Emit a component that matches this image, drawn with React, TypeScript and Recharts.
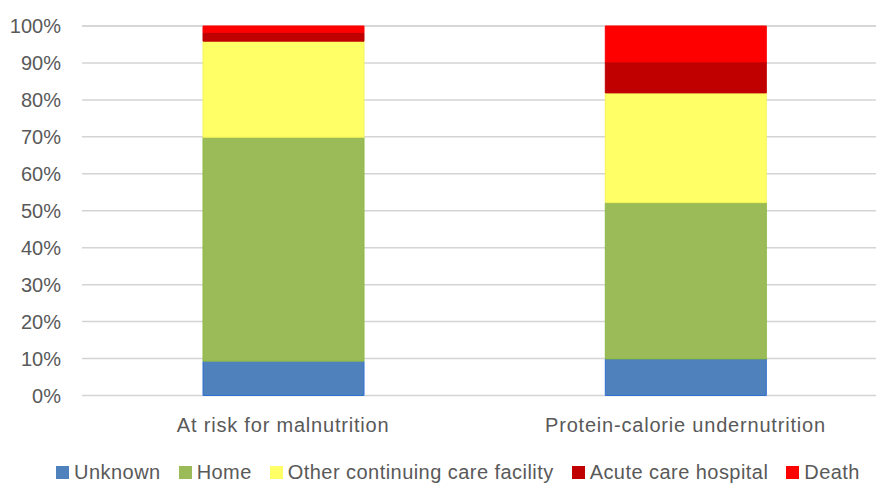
import React from "react";
import { BarChart, Bar, XAxis, YAxis, CartesianGrid, Legend } from "recharts";

const categories = ["At risk for malnutrition", "Protein-calorie undernutrition"];
const unknownValues = [9.3, 9.9];
const homeValues = [60.6, 42.3];
const otherCareValues = [26.0, 29.7];
const acuteValues = [2.4, 8.4];
const deathValues = [1.7, 9.7];
const yTicks = [0, 10, 20, 30, 40, 50, 60, 70, 80, 90, 100];

const seriesNames = ["Unknown", "Home", "Other continuing care facility", "Acute care hospital", "Death"];
const seriesKeys = ["unknown", "home", "other", "acute", "death"];
const seriesFill = ["#4F81BD", "#9BBB59", "#FFFF66", "#C00000", "#FF0000"];
const seriesStroke = ["#2F6FCF", "#8DB843", "#F5F55A", "#C00000", "#FF0000"];

const data = categories.map((name, i) => ({
  name,
  unknown: unknownValues[i],
  home: homeValues[i],
  other: otherCareValues[i],
  acute: acuteValues[i],
  death: deathValues[i],
}));

const FONT = "'Liberation Sans', Arial, sans-serif";
const TEXT = "#595959";

const renderLegend = () => (
  <div
    style={{
      display: "flex",
      justifyContent: "center",
      alignItems: "center",
      width: 876,
      height: 22,
      lineHeight: "22px",
      fontFamily: FONT,
      fontSize: 20,
      color: TEXT,
      letterSpacing: 0.45,
      whiteSpace: "nowrap",
    }}
  >
    {seriesNames.map((n, i) => (
      <div key={n} style={{ display: "flex", alignItems: "center", marginRight: i < seriesNames.length - 1 ? 18 : 0 }}>
        <span
          style={{
            display: "inline-block",
            width: 13,
            height: 13,
            background: seriesFill[i],
            marginRight: 5,
          }}
        />
        <span>{n}</span>
      </div>
    ))}
  </div>
);

export default function App() {
  return (
    <div
      style={{
        position: "fixed",
        left: 0,
        top: 0,
        width: 876,
        height: 484,
        overflow: "hidden",
        background: "#fff",
        fontFamily: FONT,
      }}
    >
      <BarChart
        width={890}
        height={484}
        data={data}
        margin={{ top: 26, right: 3.4, left: 0, bottom: 28.5 }}
        barSize={161}
      >
        <CartesianGrid vertical={false} stroke="#d4d4d4" strokeWidth={1.5} />
        <XAxis
          dataKey="name"
          axisLine={false}
          tickLine={false}
          tickSize={0}
          tickMargin={22}
          height={60}
          tick={{ fill: TEXT, fontSize: 20, fontFamily: FONT, letterSpacing: 0.8 }}
        />
        <YAxis
          width={82}
          domain={[0, 100]}
          ticks={yTicks}
          interval={0}
          axisLine={false}
          tickLine={false}
          tickSize={0}
          tickMargin={21}
          tickFormatter={(v) => `${v}%`}
          tick={{ fill: TEXT, fontSize: 20, fontFamily: FONT }}
        />
        <Legend
          layout="horizontal"
          verticalAlign="middle"
          align="center"
          content={renderLegend}
          wrapperStyle={{ top: 461, left: 20, width: 876, bottom: "auto" }}
        />
        {seriesKeys.map((k, i) => (
          <Bar
            key={k}
            dataKey={k}
            name={seriesNames[i]}
            stackId="a"
            fill={seriesFill[i]}
            stroke={seriesStroke[i]}
            strokeWidth={1}
            isAnimationActive={false}
          />
        ))}
      </BarChart>
    </div>
  );
}
